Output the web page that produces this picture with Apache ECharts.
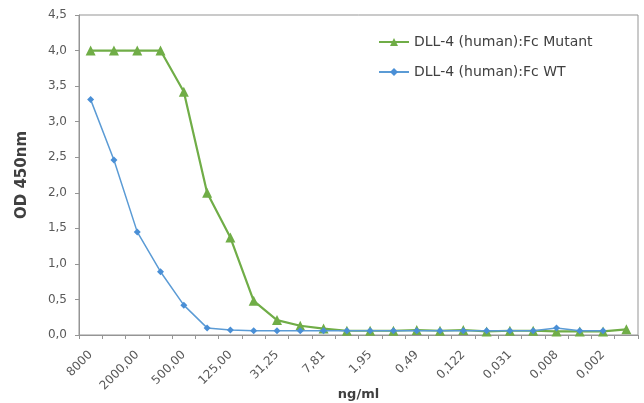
<!DOCTYPE html>
<html><head><meta charset="utf-8">
<script src="https://cdn.jsdelivr.net/npm/echarts@6/dist/echarts.min.js"></script>
<style>html,body{margin:0;padding:0;background:#fff}#c{width:644px;height:403px}</style>
</head><body><div id="c"></div>
<script>
const categories = ['8000','4000,00','2000,00','1000,00','500,00','250,00','125,00','62,50','31,25','15,63','7,81','3,91','1,95','0,98','0,49','0,244','0,122','0,061','0,031','0,015','0,008','0,004','0,002','0,001'];
const mutantValues = [4.0,4.0,4.0,4.0,3.42,2.0,1.37,0.48,0.21,0.13,0.09,0.06,0.06,0.06,0.07,0.06,0.07,0.05,0.06,0.06,0.05,0.05,0.05,0.08];
const wtValues = [3.31,2.46,1.45,0.89,0.42,0.1,0.07,0.06,0.06,0.06,0.06,0.06,0.06,0.06,0.06,0.06,0.06,0.06,0.06,0.06,0.1,0.06,0.06,null];
const yTicks = [0,0.5,1,1.5,2,2.5,3,3.5,4,4.5];

const chart = echarts.init(document.getElementById('c'));
chart.setOption({
  animation:false,
  textStyle:{fontFamily:'DejaVu Sans, Verdana, sans-serif'},
  grid:{left:79,right:6,top:15,bottom:68,show:true,borderColor:'#959595',borderWidth:1,
        containLabel:false,outerBoundsMode:'none'},
  legend:{
    orient:'vertical',left:378,top:35,padding:0,itemGap:16,itemWidth:30,itemHeight:10,
    textStyle:{fontSize:14,color:'#404040'},
    data:['DLL-4 (human):Fc Mutant','DLL-4 (human):Fc WT']
  },
  xAxis:{
    type:'category',data:categories,boundaryGap:true,
    name:'ng/ml',nameLocation:'middle',nameGap:53,nameMoveOverlap:false,
    nameTextStyle:{fontSize:13,fontWeight:'bold',color:'#404040'},
    axisLine:{lineStyle:{color:'#959595'}},
    axisTick:{show:true,interval:0,length:4,lineStyle:{color:'#959595'}},
    axisLabel:{interval:1,rotate:45,align:'right',verticalAlign:'middle',
      fontSize:12,color:'#595959',margin:18}
  },
  yAxis:{
    type:'value',min:0,max:4.5,interval:0.5,
    name:'OD 450nm',nameLocation:'middle',nameGap:49,nameMoveOverlap:false,
    nameTextStyle:{fontSize:15,fontWeight:'bold',color:'#404040'},
    axisLine:{show:true,lineStyle:{color:'#959595'}},
    axisTick:{show:true,length:4,lineStyle:{color:'#959595'}},
    splitLine:{show:false},
    axisLabel:{fontSize:12,color:'#595959',margin:12,
      formatter:v=>yTicks.indexOf(v)>=0?v.toFixed(1).replace('.',','):''}
  },
  series:[
    {name:'DLL-4 (human):Fc Mutant',type:'line',data:mutantValues,
     symbol:'triangle',symbolSize:10,
     lineStyle:{color:'#70AD47',width:2.2},itemStyle:{color:'#70AD47'},z:2},
    {name:'DLL-4 (human):Fc WT',type:'line',data:wtValues,
     symbol:'diamond',symbolSize:7,
     lineStyle:{color:'#5B9BD5',width:1.5},itemStyle:{color:'#4a8fd6'},z:3}
  ]
});
</script></body></html>
